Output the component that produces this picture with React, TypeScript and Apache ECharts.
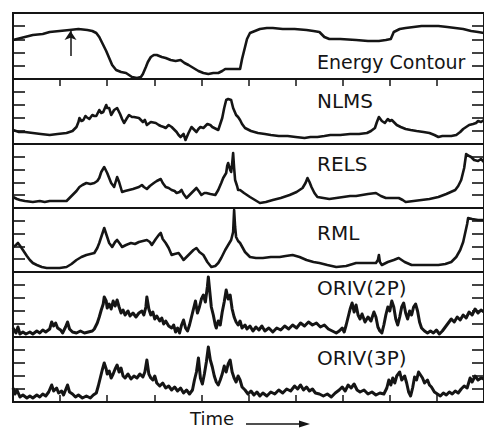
import React, { useEffect, useRef } from "react";
import * as echarts from "echarts";

// Time axis in frames (0..475), value axis per panel in arbitrary units (0..panel max)
const panelNames = ["Energy Contour", "NLMS", "RELS", "RML", "ORIV(2P)", "ORIV(3P)"];
const panelMax = [66, 65, 64, 64, 65, 65];
const timeMax = 475;
const timeStep = 47.5;

const energy: number[][] = [
  [0, 39], [8, 41], [20, 44], [30, 45], [37, 47], [47, 48], [57, 49], [66, 50], [75, 49], [80, 48], [84, 46],
  [87, 42], [90, 36], [94, 28], [97, 21], [100, 14], [104, 9], [109, 7], [114, 6], [117, 4], [120, 2],
  [125, 1], [129, 2], [131, 5], [134, 12], [136, 17], [139, 22], [142, 24], [145, 24], [150, 22], [154, 21],
  [159, 19], [164, 18], [169, 19], [173, 16], [177, 14], [182, 11], [187, 8], [192, 6], [197, 5], [202, 6],
  [207, 6], [211, 8], [214, 10], [222, 10], [229, 10], [231, 20], [234, 32], [236, 40], [239, 46], [244, 48],
  [249, 50], [256, 51], [262, 51], [272, 50], [284, 50], [296, 49], [303, 48], [309, 47], [312, 44], [314, 42],
  [319, 40], [330, 40], [346, 39], [358, 38], [369, 38], [376, 39], [381, 40], [384, 47], [390, 50], [396, 51],
  [404, 52], [412, 53], [420, 53], [429, 53], [438, 52], [446, 51], [454, 50], [462, 48], [469, 47], [475, 46]
];

const nlms: number[][] = [
  [0, 14], [6, 12], [12, 12], [20, 11], [28, 10], [37, 9], [45, 10], [54, 11], [60, 13], [64, 17], [66, 22],
  [67, 26], [69, 23], [71, 24], [73, 28], [74, 27], [77, 25], [80, 29], [82, 28], [84, 28], [87, 34], [89, 31],
  [91, 32], [94, 39], [95, 36], [97, 36], [99, 29], [102, 34], [105, 36], [108, 30], [110, 25], [112, 21],
  [115, 26], [117, 29], [120, 27], [122, 27], [127, 26], [131, 22], [133, 24], [135, 19], [139, 22], [144, 21],
  [147, 19], [149, 18], [152, 17], [154, 16], [157, 19], [160, 17], [163, 14], [165, 12], [167, 9], [169, 7],
  [172, 10], [174, 4], [177, 11], [180, 17], [183, 14], [185, 12], [187, 15], [189, 17], [192, 16], [196, 20],
  [199, 19], [201, 17], [203, 16], [205, 15], [207, 14], [209, 20], [211, 26], [213, 36], [215, 44], [217, 45],
  [220, 44], [222, 36], [225, 29], [227, 27], [229, 24], [231, 20], [234, 16], [240, 13], [247, 11], [254, 10],
  [260, 9], [268, 8], [277, 8], [285, 7], [294, 6], [300, 7], [307, 7], [314, 8], [320, 9], [330, 9], [340, 10],
  [349, 10], [357, 11], [361, 13], [365, 16], [367, 22], [369, 27], [372, 23], [375, 21], [378, 25], [380, 23],
  [382, 24], [385, 21], [387, 19], [391, 17], [396, 15], [401, 14], [407, 13], [414, 12], [420, 11], [425, 9],
  [429, 7], [433, 8], [437, 8], [442, 8], [447, 9], [451, 12], [454, 15], [457, 17], [460, 19], [464, 20],
  [467, 21], [469, 23], [472, 22], [475, 24]
];

const rels: number[][] = [
  [0, 11], [4, 9], [7, 8], [12, 7], [20, 6], [27, 7], [32, 6], [37, 7], [45, 7], [54, 7], [57, 10], [60, 13],
  [64, 17], [67, 21], [70, 23], [74, 25], [78, 24], [82, 25], [85, 27], [87, 30], [89, 36], [92, 41], [95, 35],
  [97, 30], [99, 25], [102, 21], [105, 31], [107, 26], [110, 16], [113, 17], [117, 18], [121, 19], [124, 20],
  [127, 21], [130, 23], [132, 21], [135, 19], [138, 22], [142, 25], [145, 27], [149, 29], [151, 25], [154, 21],
  [157, 20], [160, 18], [163, 17], [165, 15], [168, 16], [170, 18], [172, 14], [175, 10], [178, 13], [180, 15],
  [183, 18], [185, 20], [188, 16], [190, 13], [193, 15], [195, 15], [199, 14], [204, 13], [207, 18], [210, 25],
  [212, 30], [215, 35], [216, 42], [217, 45], [219, 38], [220, 36], [221, 44], [222, 55], [223, 40], [224, 28],
  [226, 22], [227, 18], [229, 18], [233, 15], [239, 11], [244, 8], [249, 5], [255, 6], [262, 8], [270, 10],
  [279, 13], [286, 16], [292, 20], [295, 25], [297, 30], [299, 26], [301, 21], [304, 15], [307, 11], [313, 10],
  [319, 9], [326, 10], [333, 11], [340, 12], [346, 12], [352, 13], [358, 14], [366, 15], [371, 12], [376, 10],
  [382, 10], [389, 10], [393, 8], [396, 6], [404, 7], [412, 8], [420, 9], [429, 11], [437, 14], [446, 18],
  [449, 22], [452, 28], [455, 40], [457, 54], [460, 52], [462, 51], [465, 48], [469, 47], [472, 49], [475, 46]
];

const rml: number[][] = [
  [0, 25], [3, 27], [5, 29], [8, 25], [10, 22], [14, 16], [17, 12], [20, 9], [24, 7], [29, 5], [34, 4],
  [40, 4], [47, 4], [54, 5], [59, 8], [64, 12], [69, 15], [74, 17], [78, 18], [82, 19], [85, 24], [87, 29],
  [90, 38], [92, 44], [94, 38], [95, 35], [97, 29], [100, 25], [103, 30], [105, 32], [108, 28], [110, 25],
  [114, 27], [119, 29], [123, 28], [127, 30], [131, 31], [135, 32], [138, 30], [140, 27], [144, 33], [147, 37],
  [149, 39], [151, 33], [154, 29], [157, 24], [160, 17], [163, 18], [167, 19], [170, 15], [172, 12], [175, 15],
  [179, 19], [182, 22], [185, 24], [188, 20], [192, 17], [196, 10], [200, 5], [204, 6], [207, 9], [210, 14],
  [214, 22], [217, 27], [220, 32], [222, 40], [223, 62], [224, 45], [225, 35], [227, 31], [229, 29], [234, 20],
  [239, 15], [245, 14], [252, 14], [260, 15], [269, 15], [275, 16], [282, 17], [289, 15], [296, 12], [303, 10],
  [309, 9], [317, 7], [326, 5], [336, 6], [346, 9], [356, 9], [366, 9], [368, 12], [369, 17], [370, 10],
  [372, 7], [378, 10], [384, 12], [389, 14], [395, 10], [402, 7], [410, 7], [420, 7], [429, 7], [436, 8],
  [442, 10], [447, 15], [451, 22], [454, 30], [456, 39], [458, 48], [459, 54], [463, 53], [469, 52], [475, 52]
];

const oriv2: number[][] = [
  [0, 9], [3, 4], [5, 10], [7, 3], [10, 5], [13, 3], [17, 5], [20, 3], [24, 6], [27, 4], [30, 7], [33, 5],
  [37, 8], [39, 15], [41, 11], [43, 14], [45, 9], [48, 7], [50, 4], [53, 10], [55, 15], [57, 8], [60, 5],
  [64, 4], [68, 6], [72, 4], [76, 5], [80, 6], [82, 8], [85, 14], [87, 20], [89, 27], [91, 33], [92, 40],
  [94, 36], [95, 29], [97, 33], [99, 28], [101, 36], [103, 31], [105, 37], [107, 30], [109, 24], [111, 27],
  [113, 22], [116, 26], [118, 21], [121, 24], [124, 20], [127, 24], [130, 26], [132, 22], [134, 30], [135, 40],
  [137, 28], [139, 22], [141, 25], [143, 18], [145, 21], [148, 16], [150, 19], [152, 13], [154, 16], [157, 11],
  [160, 9], [162, 12], [164, 5], [166, 9], [168, 4], [170, 12], [172, 17], [174, 9], [176, 6], [178, 12],
  [180, 20], [182, 28], [184, 36], [186, 24], [188, 30], [190, 38], [192, 42], [194, 35], [196, 50], [197, 60],
  [199, 40], [200, 30], [202, 22], [204, 12], [205, 9], [207, 16], [209, 12], [211, 25], [213, 35], [215, 47],
  [217, 38], [219, 42], [221, 28], [223, 20], [225, 15], [227, 12], [229, 16], [231, 9], [234, 12], [236, 8],
  [239, 11], [242, 6], [245, 10], [248, 7], [251, 11], [254, 6], [258, 9], [262, 5], [266, 9], [270, 7],
  [274, 11], [278, 8], [282, 12], [286, 9], [290, 14], [294, 11], [298, 15], [302, 12], [306, 14], [310, 10],
  [314, 12], [318, 8], [322, 6], [326, 4], [329, 6], [332, 9], [334, 5], [336, 12], [338, 20], [340, 28],
  [342, 34], [344, 25], [346, 32], [348, 22], [350, 18], [352, 23], [355, 15], [358, 20], [361, 16], [364, 25],
  [366, 20], [368, 10], [370, 6], [372, 4], [374, 12], [376, 22], [378, 30], [380, 26], [382, 36], [384, 30],
  [386, 18], [388, 12], [390, 20], [392, 30], [394, 34], [396, 24], [398, 18], [400, 26], [402, 22], [404, 30],
  [406, 33], [408, 26], [410, 15], [412, 9], [415, 6], [418, 4], [421, 6], [424, 4], [427, 7], [430, 3],
  [433, 6], [436, 10], [439, 14], [442, 18], [445, 15], [448, 20], [451, 17], [454, 22], [457, 19], [460, 25],
  [463, 22], [466, 28], [469, 24], [472, 27], [475, 25]
];

const oriv3: number[][] = [
  [0, 14], [2, 8], [4, 12], [7, 5], [10, 7], [14, 4], [17, 6], [20, 4], [24, 7], [27, 5], [30, 8], [33, 6],
  [36, 10], [39, 17], [41, 11], [44, 14], [46, 9], [49, 11], [51, 7], [53, 12], [55, 17], [57, 10], [60, 8],
  [63, 5], [66, 7], [70, 4], [74, 6], [78, 4], [81, 7], [84, 9], [86, 16], [88, 24], [90, 32], [92, 39],
  [94, 33], [95, 28], [97, 31], [99, 24], [101, 28], [103, 33], [105, 37], [107, 30], [109, 34], [111, 26],
  [113, 24], [116, 28], [119, 23], [122, 26], [125, 24], [128, 28], [131, 25], [133, 30], [135, 42], [137, 28],
  [139, 24], [141, 22], [143, 26], [145, 19], [148, 16], [151, 19], [154, 14], [157, 16], [160, 12], [163, 15],
  [166, 11], [169, 14], [172, 9], [175, 12], [178, 8], [181, 12], [183, 22], [185, 30], [187, 44], [189, 24],
  [191, 18], [193, 28], [195, 40], [197, 55], [199, 42], [201, 35], [203, 26], [205, 20], [207, 17], [209, 22],
  [211, 28], [213, 36], [215, 30], [217, 38], [219, 42], [221, 30], [223, 24], [225, 20], [227, 26], [229, 22],
  [231, 15], [234, 12], [237, 8], [240, 11], [243, 7], [246, 10], [249, 6], [252, 9], [256, 6], [260, 10],
  [264, 8], [268, 12], [272, 9], [276, 13], [280, 11], [284, 16], [287, 13], [290, 17], [293, 12], [296, 15],
  [299, 11], [302, 13], [305, 9], [309, 8], [313, 6], [317, 8], [321, 5], [325, 9], [329, 12], [332, 15],
  [335, 11], [338, 17], [341, 14], [344, 18], [347, 12], [350, 10], [354, 12], [358, 8], [362, 10], [366, 7],
  [370, 9], [374, 8], [377, 14], [379, 22], [381, 17], [383, 24], [385, 19], [387, 26], [390, 30], [392, 22],
  [395, 26], [397, 19], [399, 10], [401, 6], [403, 14], [405, 25], [407, 22], [409, 30], [411, 27], [413, 24],
  [415, 19], [418, 22], [420, 17], [422, 15], [425, 10], [428, 8], [431, 6], [434, 9], [437, 7], [440, 10],
  [443, 8], [446, 11], [449, 9], [452, 13], [455, 16], [458, 14], [461, 24], [463, 20], [466, 26], [469, 22],
  [472, 24], [475, 23]
];

const seriesData = [energy, nlms, rels, rml, oriv2, oriv3];
const lineWidths = [2.6, 2.6, 2.6, 2.6, 3, 3];
// arrow annotation on energy contour: time frame, from value, to value
const markerArrow = { t: 58, from: 23, to: 48 };

const INK = "#151515";
const FONT = "DejaVu Sans";

export default function App() {
  const ref = useRef<HTMLDivElement>(null);
  useEffect(() => {
    if (!ref.current) return;
    const chart = echarts.init(ref.current, null, { renderer: "svg" });
    const tops = [13, 79, 144, 208, 272, 337];
    const heights = [66, 65, 64, 64, 65, 65];
    const labelY = [64, 103, 166, 235, 290, 360];
    const labelSize = [19, 20, 20, 20, 20, 20];
    const n = panelNames.length;

    const grid = tops.map((t, i) => ({
      left: 13,
      top: t,
      width: 475,
      height: heights[i],
      show: true,
      borderColor: INK,
      borderWidth: 2,
      backgroundColor: "transparent",
    }));

    const xAxis = tops.map((_, i) => ({
      type: "value",
      gridIndex: i,
      min: 0,
      max: timeMax,
      interval: timeStep,
      position: i === 0 ? "top" : "bottom",
      axisLine: { show: false },
      axisLabel: { show: false },
      splitLine: { show: false },
      axisTick: {
        show: i === 0 || i === n - 1,
        inside: true,
        length: 7,
        lineStyle: { color: INK, width: 1.5 },
      },
    }));

    const yAxis: any[] = [];
    tops.forEach((_, i) => {
      const common = {
        type: "value",
        gridIndex: i,
        min: 0,
        max: panelMax[i],
        interval: panelMax[i] / 5,
        axisLine: { show: false },
        axisLabel: { show: false },
        splitLine: { show: false },
      };
      yAxis.push({
        ...common,
        position: "left",
        axisTick: { show: true, inside: true, length: 12, lineStyle: { color: INK, width: 1.6 } },
      });
      yAxis.push({
        ...common,
        position: "right",
        axisTick: { show: true, inside: true, length: 12, lineStyle: { color: INK, width: 1.6 } },
      });
    });

    const series: any[] = seriesData.map((d, i) => ({
      type: "line",
      name: panelNames[i],
      xAxisIndex: i,
      yAxisIndex: i * 2,
      data: d,
      showSymbol: false,
      symbol: "none",
      lineStyle: { color: INK, width: lineWidths[i], join: "round" },
      silent: true,
      markLine:
        i === 0
          ? {
              silent: true,
              symbol: ["none", "arrow"],
              symbolSize: 9,
              label: { show: false },
              lineStyle: { color: INK, width: 1.5, type: "solid" },
              data: [[{ coord: [markerArrow.t, markerArrow.from] }, { coord: [markerArrow.t, markerArrow.to] }]],
            }
          : undefined,
    }));

    const graphic: any[] = panelNames.map((name, i) => ({
      type: "text",
      left: 317,
      top: labelY[i] - labelSize[i] * 0.6,
      silent: true,
      style: {
        text: name,
        fill: INK,
        font: `${labelSize[i]}px "${FONT}"`,
      },
    }));
    graphic.push({
      type: "text",
      left: 190,
      top: 409,
      style: { text: "Time", fill: INK, font: `18px "${FONT}"` },
    });
    graphic.push({
      type: "line",
      shape: { x1: 246, y1: 424, x2: 303, y2: 424 },
      style: { stroke: INK, lineWidth: 1.6 },
    });
    graphic.push({
      type: "polygon",
      shape: { points: [[299, 420.5], [310, 424], [299, 427.5]] },
      style: { fill: INK },
    });

    chart.setOption({
      animation: false,
      backgroundColor: "#ffffff",
      grid,
      xAxis,
      yAxis,
      series,
      graphic,
    });
    return () => chart.dispose();
  }, []);
  return (
    <div
      ref={ref}
      style={{ position: "fixed", left: 0, top: 0, width: 484, height: 430, background: "#fff" }}
    />
  );
}
